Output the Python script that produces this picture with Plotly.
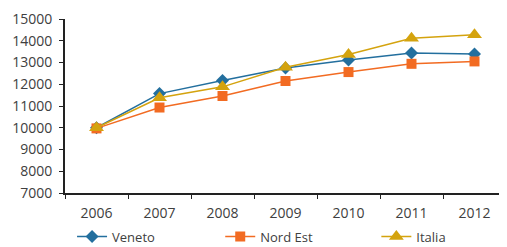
import plotly.graph_objects as go

years = ["2006", "2007", "2008", "2009", "2010", "2011", "2012"]
veneto = [10000, 11570, 12170, 12750, 13120, 13440, 13390]
nord_est = [9970, 10930, 11460, 12150, 12560, 12940, 13050]
italia = [10000, 11380, 11880, 12780, 13370, 14110, 14280]

# The page body adds an 8px margin, so the figure is 8px smaller on each side
W, H = 499, 239
L, R, T, B = 57, 1, 11, 54

fig = go.Figure()
fig.add_trace(go.Scatter(x=years, y=veneto, name="Veneto", mode="lines+markers", legend="legend",
                         line=dict(color="#236F9E", width=1.5),
                         marker=dict(symbol="diamond", size=10, color="#236F9E")))
fig.add_trace(go.Scatter(x=years, y=nord_est, name="Nord Est", mode="lines+markers", legend="legend2",
                         line=dict(color="#F26B22", width=1.5),
                         marker=dict(symbol="square", size=10, color="#F26B22")))
fig.add_trace(go.Scatter(x=years, y=italia, name="Italia", mode="lines+markers", legend="legend3",
                         line=dict(color="#D4A30E", width=1.5),
                         marker=dict(symbol="triangle-up", size=13, color="#D4A30E")))

font = dict(family="Open Sans, Segoe UI, sans-serif", size=14, color="#404040")
leg = dict(orientation="h", xanchor="left", y=-0.25, yanchor="middle",
           font=dict(size=13, color="#404040"), bgcolor="rgba(0,0,0,0)")
fig.update_layout(
    width=W, height=H,
    margin=dict(l=L, r=R, t=T, b=B, autoexpand=False),
    paper_bgcolor="white", plot_bgcolor="white",
    font=font,
    showlegend=True,
    legend=dict(leg, x=0.016),
    legend2=dict(leg, x=0.352),
    legend3=dict(leg, x=0.706),
    xaxis=dict(type="category", showline=True, linecolor="#222", linewidth=2,
               ticks="outside", ticklen=4, tickcolor="#222", tickson="boundaries",
               showgrid=False, range=[-0.5, 6.5], ticklabelstandoff=6),
    yaxis=dict(range=[7000, 15000], dtick=1000, tickformat="d", showline=True,
               linecolor="#222", linewidth=2,
               ticks="outside", ticklen=4, tickcolor="#222", showgrid=False, zeroline=False,
               ticklabelstandoff=4),
)
fig.write_html("out.html")
